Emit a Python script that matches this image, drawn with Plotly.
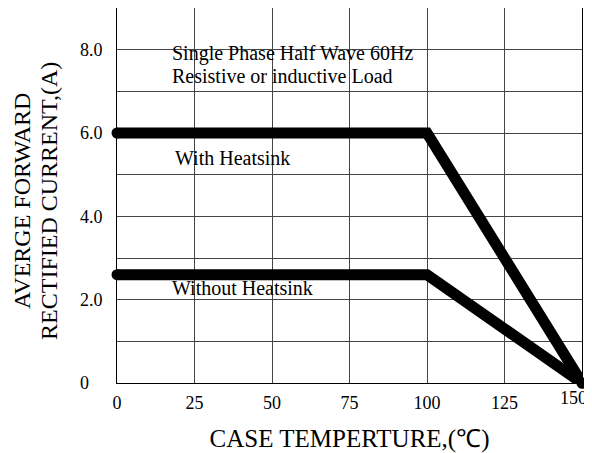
import plotly.graph_objects as go

temp_with = [0, 100, 150]
current_with = [6.0, 6.0, 0]
temp_without = [0, 100, 150]
current_without = [2.6, 2.6, 0]

x_ticks = [0, 25, 50, 75, 100, 125, 150]
x_ticklabels = ["0", "25", "50", "75", "100", "125", ""]
last_x_label = "150"
y_ticks = [0, 2, 4, 6, 8]
y_ticklabels = ["0\u00a0\u00a0\u00a0", "2.0", "4.0", "6.0", "8.0"]
y_title_lines = ["AVERGE FORWARD", "RECTIFIED CURRENT,(A)"]

FONT = "Liberation Serif"

fig = go.Figure()
for xs, ys in [(temp_with, current_with), (temp_without, current_without)]:
    fig.add_trace(go.Scatter(x=xs, y=ys, mode="lines",
                             line=dict(color="black", width=11),
                             showlegend=False, hoverinfo="skip", cliponaxis=False))
    fig.add_trace(go.Scatter(x=[xs[0], xs[-1]], y=[ys[0], ys[-1]], mode="markers",
                             marker=dict(color="black", size=11),
                             showlegend=False, hoverinfo="skip", cliponaxis=False))

annots = [
    (17.2, 7.9, "Single Phase Half Wave 60Hz"),
    (17.2, 7.37, "Resistive or inductive Load"),
    (18.0, 5.4, "With Heatsink"),
    (17.0, 2.29, "Without Heatsink"),
]
for x, y, t in annots:
    fig.add_annotation(x=x, y=y, text=t, showarrow=False, xanchor="left",
                       yanchor="middle", font=dict(family=FONT, size=20, color="black"))

# last x tick label drawn at the axis end, shifted inward as in the reference
fig.add_annotation(x=x_ticks[-1], y=0, yref="y", text=last_x_label, showarrow=False,
                   xanchor="right", yanchor="top", xshift=7, yshift=-3,
                   font=dict(family=FONT, size=18, color="black"))

# two-line y-axis title
for txt, xs_, yv in [(y_title_lines[0], -95, 4.37), (y_title_lines[1], -68, 4.37)]:
    fig.add_annotation(x=0, xref="paper", y=yv, yref="y", text=txt, showarrow=False,
                       textangle=-90, xanchor="center", yanchor="middle", xshift=xs_,
                       font=dict(family=FONT, size=24, color="black"))

fig.update_layout(
    width=584, height=445,
    margin=dict(l=109, r=10, t=0, b=70, autoexpand=False),
    paper_bgcolor="white", plot_bgcolor="white",
    font=dict(family=FONT, color="black"),
    xaxis=dict(range=[0, 150], tickvals=x_ticks, ticktext=x_ticklabels,
               showgrid=True, gridcolor="#444", gridwidth=1,
               showline=True, linecolor="black", linewidth=1, mirror=True,
               zeroline=False, ticks="", ticklabelstandoff=3, automargin=False,
               ticklabeloverflow="allow",
               tickfont=dict(family=FONT, size=18),
               title=dict(text="CASE TEMPERTURE,(℃)", font=dict(family=FONT, size=25), standoff=19)),
    yaxis=dict(range=[0, 9], tickvals=y_ticks, ticktext=y_ticklabels,
               showgrid=True, gridcolor="#444", gridwidth=1,
               minor=dict(tickvals=[1, 3, 5, 7], showgrid=True, gridcolor="#444", gridwidth=1),
               showline=True, linecolor="black", linewidth=1, mirror=True,
               zeroline=False, ticks="", ticklabelstandoff=10, automargin=False,
               ticklabeloverflow="allow",
               tickfont=dict(family=FONT, size=18)),
)

fig.write_html("out.html")
